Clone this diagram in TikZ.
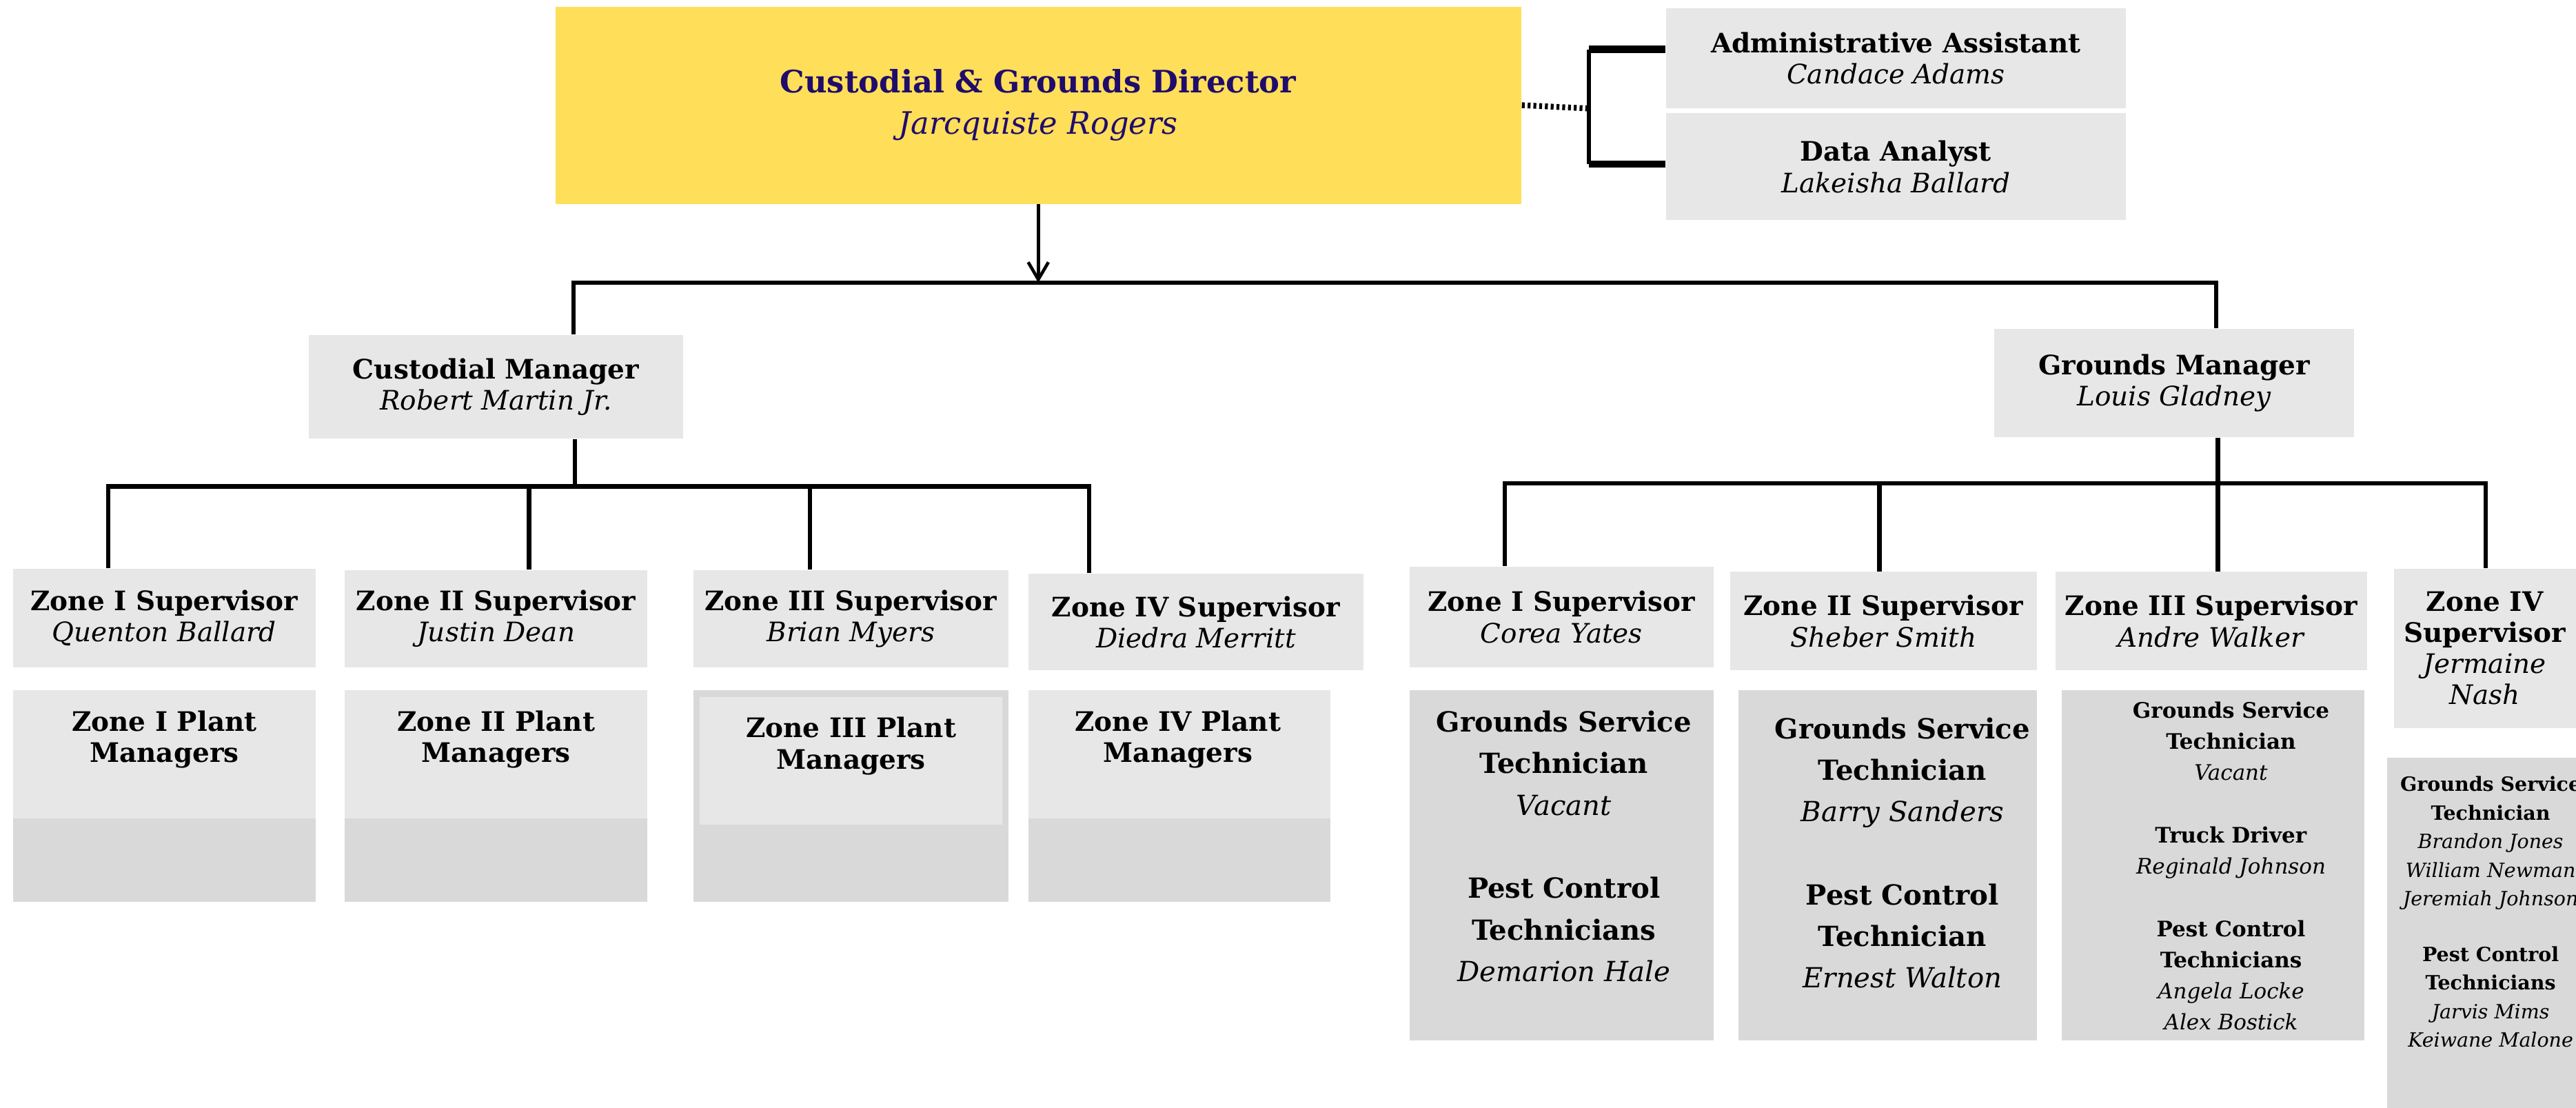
\documentclass[tikz,border=0pt]{standalone}
\usepackage{fontspec}
\setmainfont{DejaVu Serif}
\usetikzlibrary{positioning,arrows.meta}
\definecolor{dirgold}{HTML}{FFDE59}
\definecolor{dirnavy}{HTML}{1F0C6B}
\definecolor{boxlight}{HTML}{E7E7E7}
\definecolor{boxdark}{HTML}{D9D9D9}

\begin{document}
\begin{tikzpicture}
  [x=0.02cm,y=-0.02cm,
  cell/.style 2 args={minimum width=#1*0.02cm,minimum height=#2*0.02cm},
  director/.style={fill=dirgold,inner sep=0pt,align=center,text=dirnavy,
font=\fontsize{10.7}{14.2}\selectfont},
  post/.style={fill=boxlight,inner sep=0pt,align=center,
font=\fontsize{9.3}{10.8}\selectfont},
  crew/.style={fill=boxdark,inner sep=0pt},
  plant/.style={fill=boxlight,inner sep=0pt},
  names/.style={inner sep=0pt,align=center},
  bigcrew/.style={names,font=\fontsize{9.6}{14.4}\selectfont},
  smallcrew/.style={names,font=\fontsize{7.4}{10.8}\selectfont},
  tinycrew/.style={names,font=\fontsize{6.8}{9.9}\selectfont},
  link/.style={line width=1.5pt},
  stub/.style={line width=2.4pt},
  dotlink/.style={line width=2pt,dash pattern=on 1pt off 1pt},
  arrowlink/.style={line width=1.1pt,-{Straight Barb[length=6pt,width=7pt]}}]
  \useasboundingbox (0,0) rectangle (1568,674);
  \clip (0,0) rectangle (1568,674);

  % director and staff
  \node[director,cell={588}{120}] (director) at (632,64)
    {\textbf{Custodial \& Grounds Director}\\\textit{Jarcquiste Rogers}};
  \node[post,cell={280}{61}] (assistant) at (1154,35.5)
    {\textbf{Administrative Assistant}\\\textit{Candace Adams}};
  \node[post,cell={280}{65}] (analyst) at (1154,101.5)
    {\textbf{Data Analyst}\\\textit{Lakeisha Ballard}};

  % managers
  \node[post,cell={228}{63}] (custodial) at (302,235.5)
    {\textbf{Custodial Manager}\\\textit{Robert Martin Jr.}};
  \node[post,cell={219}{66}] (grounds) at (1323.5,233)
    {\textbf{Grounds Manager}\\\textit{Louis Gladney}};

  % custodial supervisors
  \node[post,cell={184}{60}] (cs1) at (100,376)
    {\textbf{Zone I Supervisor}\\\textit{Quenton Ballard}};
  \node[post,cell={184}{59}] (cs2) at (302,376.5)
    {\textbf{Zone II Supervisor}\\\textit{Justin Dean}};
  \node[post,cell={192}{59}] (cs3) at (518,376.5)
    {\textbf{Zone III Supervisor}\\\textit{Brian Myers}};
  \node[post,cell={204}{59}] (cs4) at (728,378.5)
    {\textbf{Zone IV Supervisor}\\\textit{Diedra Merritt}};

  % plant managers
  \node[crew,cell={184}{129}] (cp1) at (100,484.5) {};
  \node[plant,cell={184}{78}] (cp1top) at (100,459) {};
  \node[crew,cell={184}{129}] (cp2) at (302,484.5) {};
  \node[plant,cell={184}{78}] (cp2top) at (302,459) {};
  \node[crew,cell={192}{129}] (cp3) at (518,484.5) {};
  \node[plant,cell={184}{78}] (cp3top) at (518,463) {};
  \node[crew,cell={184}{129}] (cp4) at (718,484.5) {};
  \node[plant,cell={184}{78}] (cp4top) at (718,459) {};
  \node[post,fill=none] (cp1txt) at (100,450) {\textbf{Zone I Plant}\\\textbf{Managers}};
  \node[post,fill=none] (cp2txt) at (302,450) {\textbf{Zone II Plant}\\\textbf{Managers}};
  \node[post,fill=none] (cp3txt) at (518,454) {\textbf{Zone III Plant}\\\textbf{Managers}};
  \node[post,fill=none] (cp4txt) at (717,450) {\textbf{Zone IV Plant}\\\textbf{Managers}};

  % grounds supervisors
  \node[post,cell={185}{61}] (gs1) at (950.5,375.5)
    {\textbf{Zone I Supervisor}\\\textit{Corea Yates}};
  \node[post,cell={187}{60}] (gs2) at (1146.5,378)
    {\textbf{Zone II Supervisor}\\\textit{Sheber Smith}};
  \node[post,cell={190}{60}] (gs3) at (1346,378)
    {\textbf{Zone III Supervisor}\\\textit{Andre Walker}};
  \node[post,cell={111}{97}] (gs4) at (1512.5,394.5)
    {\textbf{Zone IV}\\\textbf{Supervisor}\\\textit{Jermaine}\\\textit{Nash}};

  % grounds crews
  \node[crew,cell={185}{213}] (gc1) at (950.5,526.5) {};
  \node[crew,cell={182}{213}] (gc2) at (1149,526.5) {};
  \node[crew,cell={184}{213}] (gc3) at (1347,526.5) {};
  \node[crew,cell={127}{219}] (gc4) at (1516.5,570.5) {};
  \node[bigcrew] (gc1txt) at (952,515) {\textbf{Grounds Service}\\\textbf{Technician}\\\textit{Vacant}\\[14.4pt]
    \textbf{Pest Control}\\\textbf{Technicians}\\\textit{Demarion Hale}};
  \node[bigcrew] (gc2txt) at (1158,519) {\textbf{Grounds Service}\\\textbf{Technician}\\\textit{Barry Sanders}\\[14.4pt]
    \textbf{Pest Control}\\\textbf{Technician}\\\textit{Ernest Walton}};
  \node[smallcrew] (gc3txt) at (1358,527) {\textbf{Grounds Service}\\\textbf{Technician}\\\textit{Vacant}\\[10.8pt]
    \textbf{Truck Driver}\\\textit{Reginald Johnson}\\[10.8pt]
    \textbf{Pest Control}\\\textbf{Technicians}\\\textit{Angela Locke}\\\textit{Alex Bostick}};
  \node[tinycrew] (gc4txt) at (1516,555) {\textbf{Grounds Service}\\\textbf{Technician}\\\textit{Brandon Jones}\\
    \textit{William Newman}\\\textit{Jeremiah Johnson}\\[9.4pt]
    \textbf{Pest Control}\\\textbf{Technicians}\\\textit{Jarvis Mims}\\\textit{Keiwane Malone}};

  % connectors
  \coordinate (bracket) at (967,66);
  \draw[dotlink] (director.east) -- (bracket);
  \draw[link] (bracket |- 0,30) -- (bracket |- 0,100);
  \draw[stub] (assistant.west |- 0,30) -- (bracket |- 0,30);
  \draw[stub] (analyst.west |- 0,100) -- (bracket |- 0,100);

  \coordinate (split) at (632,172);
  \draw[arrowlink] (director.south) -- (split);
  \draw[link] (custodial.north -| 349,0) |- (split);
  \draw[link] (grounds.north -| 1349,0) |- (split);

  \coordinate (custsplit) at (350,296);
  \draw[link] (custodial.south -| custsplit) -- (custsplit);
  \foreach \x/\n in {66/cs1,322/cs2,493/cs3,663/cs4}
    \draw[link] (\n.north -| \x,0) |- (custsplit);

  \coordinate (grndsplit) at (1350,294);
  \draw[link] (grounds.south -| grndsplit) -- (grndsplit);
  \foreach \x/\n in {916/gs1,1144/gs2,1350/gs3,1513/gs4}
    \draw[link] (\n.north -| \x,0) |- (grndsplit);

\end{tikzpicture}
\end{document}
